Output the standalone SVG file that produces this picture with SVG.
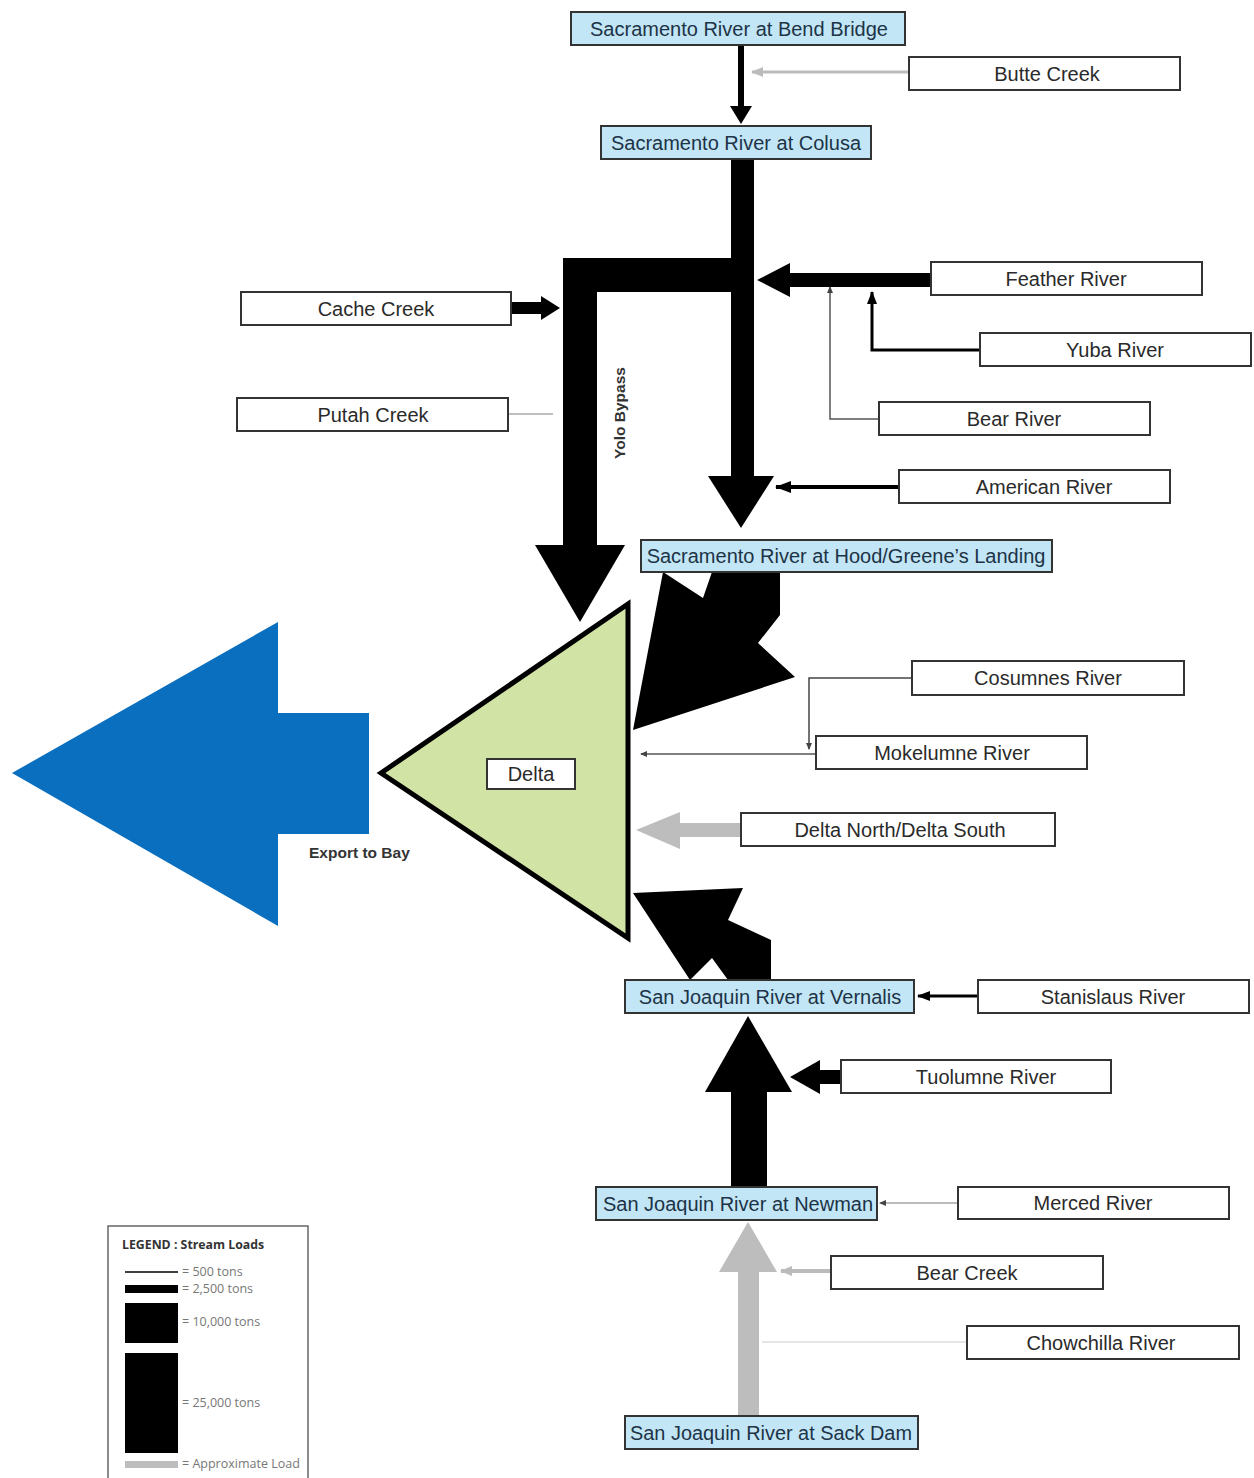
<svg xmlns="http://www.w3.org/2000/svg" width="1254" height="1478" viewBox="0 0 1254 1478">
<style>
.box{fill:#ffffff;stroke:#333333;stroke-width:2}
.site{fill:#c2e6f6;stroke:#333333;stroke-width:2}
.t{font-family:"Liberation Sans",Arial,sans-serif;font-size:20px;fill:#2a2a2a;text-anchor:middle}
.ts{fill:#1d3346}
.blk{fill:#000000}
.gry{fill:#bdbdbd}
.lbl{font-family:"Liberation Sans",Arial,sans-serif;font-weight:bold;fill:#333333}
.leg{font-family:"Open Sans","Liberation Sans",sans-serif;font-size:12.5px;fill:#777777}
</style>
<defs>
<marker id="mb" markerUnits="userSpaceOnUse" markerWidth="18" markerHeight="14" refX="15" refY="6" orient="auto"><path d="M0,0 L16,6 L0,12 z" fill="#000"/></marker>
<marker id="mbs" markerUnits="userSpaceOnUse" markerWidth="14" markerHeight="12" refX="12" refY="5" orient="auto"><path d="M0,0 L13,5 L0,10 z" fill="#000"/></marker>
<marker id="mg" markerUnits="userSpaceOnUse" markerWidth="14" markerHeight="12" refX="11" refY="5" orient="auto"><path d="M0,0 L12,5 L0,10 z" fill="#bbbbbb"/></marker>
<marker id="md" markerUnits="userSpaceOnUse" markerWidth="10" markerHeight="8" refX="6" refY="3" orient="auto"><path d="M0,0 L7,3 L0,6 z" fill="#444"/></marker>
</defs>

<g id="connectors">
  <!-- Bend Bridge to Colusa -->
  <rect class="blk" x="738" y="44" width="6" height="64"/>
  <polygon class="blk" points="730,106 752,106 741,124"/>
  <!-- Butte Creek -->
  <line x1="909" y1="72" x2="752" y2="72" stroke="#bbbbbb" stroke-width="3" marker-end="url(#mg)"/>
  <!-- Colusa to Hood -->
  <rect class="blk" x="731" y="158" width="23" height="320"/>
  <polygon class="blk" points="708,476 774,476 741,528"/>
  <!-- Yolo Bypass -->
  <rect class="blk" x="563" y="258" width="180" height="34"/>
  <rect class="blk" x="563" y="258" width="34" height="289"/>
  <polygon class="blk" points="535,545 625,545 580,622"/>
  <!-- Cache Creek -->
  <rect class="blk" x="511" y="302" width="31" height="12"/>
  <polygon class="blk" points="541,296 541,320 560,308"/>
  <!-- Putah Creek -->
  <line x1="508" y1="414" x2="553" y2="414" stroke="#aaaaaa" stroke-width="1.5"/>
  <!-- Feather River -->
  <rect class="blk" x="789" y="273" width="142" height="14"/>
  <polygon class="blk" points="790,263 790,297 757,280"/>
  <!-- Yuba River -->
  <polyline points="980,350 872,350 872,292" fill="none" stroke="#000" stroke-width="3" marker-end="url(#mbs)"/>
  <!-- Bear River -->
  <polyline points="879,419 830,419 830,287" fill="none" stroke="#555" stroke-width="1.5" marker-end="url(#md)"/>
  <!-- American River -->
  <line x1="899" y1="487" x2="776" y2="487" stroke="#000" stroke-width="4" marker-end="url(#mb)"/>
  <!-- Hood to Delta -->
  <polygon class="blk" points="663,572 703,598 712,572 780,572 780,615 758,643 795,677 633,730"/>
  <!-- Cosumnes River -->
  <polyline points="912,678 809,678 809,749" fill="none" stroke="#444" stroke-width="1.5" marker-end="url(#md)"/>
  <!-- Mokelumne River -->
  <line x1="816" y1="754" x2="641" y2="754" stroke="#555" stroke-width="1.5" marker-end="url(#md)"/>
  <!-- Delta North/Delta South -->
  <rect class="gry" x="679" y="823" width="62" height="14"/>
  <polygon class="gry" points="680,812 680,849 636,830"/>
  <!-- Vernalis to Delta -->
  <polygon class="blk" points="633,893 743,888 728,920 771,940 771,980 728,980 712,958 690,980"/>
  <!-- Stanislaus River -->
  <line x1="978" y1="996" x2="918" y2="996" stroke="#000" stroke-width="3" marker-end="url(#mbs)"/>
  <!-- Newman to Vernalis -->
  <rect class="blk" x="731" y="1090" width="36" height="97"/>
  <polygon class="blk" points="705,1092 792,1092 748,1016"/>
  <!-- Tuolumne River -->
  <rect class="blk" x="819" y="1070" width="22" height="14"/>
  <polygon class="blk" points="820,1060 820,1094 790,1077"/>
  <!-- Merced River -->
  <line x1="958" y1="1203" x2="880" y2="1203" stroke="#bbbbbb" stroke-width="2" marker-end="url(#md)"/>
  <!-- Sack Dam to Newman -->
  <rect class="gry" x="738" y="1270" width="21" height="146"/>
  <polygon class="gry" points="719,1272 777,1272 748,1222"/>
  <!-- Bear Creek -->
  <line x1="831" y1="1271" x2="781" y2="1271" stroke="#bbbbbb" stroke-width="4" marker-end="url(#mg)"/>
  <!-- Chowchilla River -->
  <line x1="967" y1="1342" x2="762" y2="1342" stroke="#dddddd" stroke-width="1.5"/>
</g>

<g id="export-to-bay">
  <polygon points="12,773 278,622 278,713 369,713 369,834 278,834 278,926" fill="#0a6fbf"/>
  <text class="lbl" x="309" y="858" font-size="15.5">Export to Bay</text>
</g>

<g id="delta">
  <polygon points="381,773 628,604 628,938" fill="#d2e3a6" stroke="#000" stroke-width="5" stroke-linejoin="miter"/>
  <rect class="box" x="487" y="759" width="88" height="30"/>
  <text class="t" x="531" y="781">Delta</text>
</g>

<g id="yolo-bypass-label">
  <text class="lbl" x="625" y="413" font-size="15.5" text-anchor="middle" transform="rotate(-90 625 413)">Yolo Bypass</text>
</g>

<g id="bend-bridge"><rect class="site" x="571" y="12" width="334" height="33"/><text class="t ts" x="739" y="36">Sacramento River at Bend Bridge</text></g>
<g id="butte-creek"><rect class="box" x="909" y="57" width="271" height="33"/><text class="t" x="1047" y="81">Butte Creek</text></g>
<g id="colusa"><rect class="site" x="601" y="126" width="270" height="33"/><text class="t ts" x="736" y="150">Sacramento River at Colusa</text></g>
<g id="feather-river"><rect class="box" x="931" y="262" width="271" height="33"/><text class="t" x="1066" y="286">Feather River</text></g>
<g id="cache-creek"><rect class="box" x="241" y="292" width="270" height="33"/><text class="t" x="376" y="316">Cache Creek</text></g>
<g id="yuba-river"><rect class="box" x="980" y="333" width="271" height="33"/><text class="t" x="1115" y="357">Yuba River</text></g>
<g id="putah-creek"><rect class="box" x="237" y="398" width="271" height="33"/><text class="t" x="373" y="422">Putah Creek</text></g>
<g id="bear-river"><rect class="box" x="879" y="402" width="271" height="33"/><text class="t" x="1014" y="426">Bear River</text></g>
<g id="american-river"><rect class="box" x="899" y="470" width="271" height="33"/><text class="t" x="1044" y="494">American River</text></g>
<g id="hood"><rect class="site" x="641" y="540" width="411" height="32"/><text class="t ts" x="846" y="563">Sacramento River at Hood/Greene’s Landing</text></g>
<g id="cosumnes-river"><rect class="box" x="912" y="661" width="272" height="34"/><text class="t" x="1048" y="685">Cosumnes River</text></g>
<g id="mokelumne-river"><rect class="box" x="816" y="736" width="271" height="33"/><text class="t" x="952" y="760">Mokelumne River</text></g>
<g id="delta-north-south"><rect class="box" x="741" y="813" width="314" height="33"/><text class="t" x="900" y="837">Delta North/Delta South</text></g>
<g id="vernalis"><rect class="site" x="625" y="980" width="289" height="33"/><text class="t ts" x="770" y="1004">San Joaquin River at Vernalis</text></g>
<g id="stanislaus-river"><rect class="box" x="978" y="980" width="271" height="33"/><text class="t" x="1113" y="1004">Stanislaus River</text></g>
<g id="tuolumne-river"><rect class="box" x="841" y="1060" width="270" height="33"/><text class="t" x="986" y="1084">Tuolumne River</text></g>
<g id="newman"><rect class="site" x="596" y="1187" width="281" height="33"/><text class="t ts" x="738" y="1211">San Joaquin River at Newman</text></g>
<g id="merced-river"><rect class="box" x="958" y="1187" width="271" height="32"/><text class="t" x="1093" y="1210">Merced River</text></g>
<g id="bear-creek"><rect class="box" x="831" y="1256" width="272" height="33"/><text class="t" x="967" y="1280">Bear Creek</text></g>
<g id="chowchilla-river"><rect class="box" x="967" y="1326" width="272" height="33"/><text class="t" x="1101" y="1350">Chowchilla River</text></g>
<g id="sack-dam"><rect class="site" x="625" y="1416" width="293" height="33"/><text class="t ts" x="771" y="1440" textLength="282" lengthAdjust="spacingAndGlyphs">San Joaquin River at Sack Dam</text></g>

<g id="legend">
  <rect x="108" y="1226" width="200" height="262" fill="#fff" stroke="#666" stroke-width="1.5"/>
  <text x="122" y="1249" font-family="'Open Sans','Liberation Sans',sans-serif" font-size="12.3" font-weight="bold" fill="#333">LEGEND : Stream Loads</text>
  <line x1="125" y1="1272" x2="178" y2="1272" stroke="#000" stroke-width="1.5"/>
  <text class="leg" x="182" y="1276">= 500 tons</text>
  <rect class="blk" x="125" y="1285" width="53" height="8"/>
  <text class="leg" x="182" y="1293">= 2,500 tons</text>
  <rect class="blk" x="125" y="1303" width="53" height="40"/>
  <text class="leg" x="182" y="1326">= 10,000 tons</text>
  <rect class="blk" x="125" y="1353" width="53" height="100"/>
  <text class="leg" x="182" y="1407">= 25,000 tons</text>
  <rect class="gry" x="125" y="1461" width="53" height="7"/>
  <text class="leg" x="182" y="1468">= Approximate Load</text>
</g>
</svg>
